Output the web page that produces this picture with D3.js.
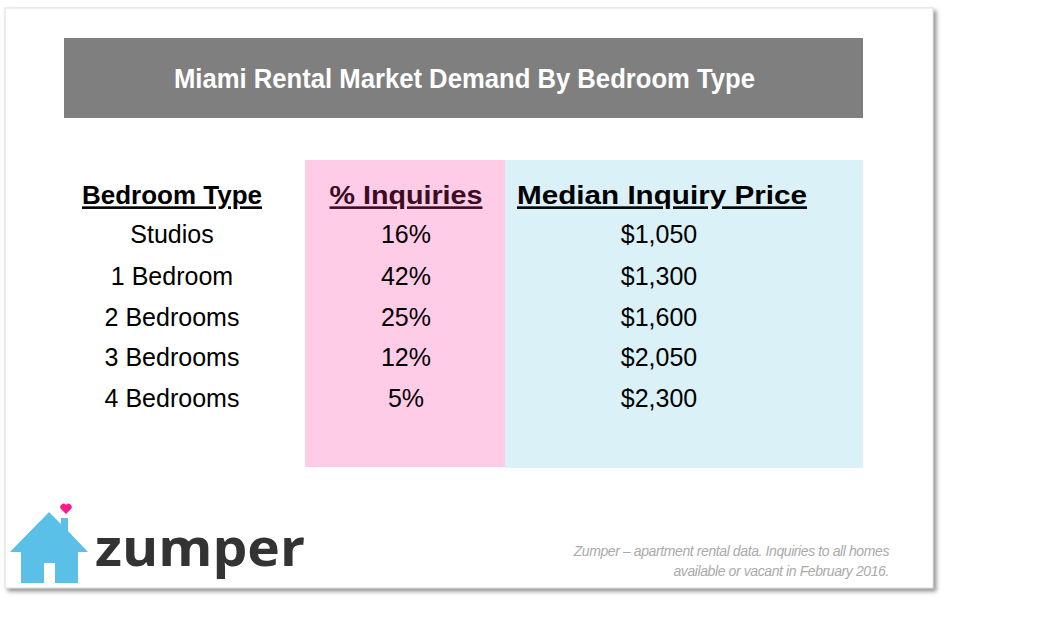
<!DOCTYPE html>
<html><head><meta charset="utf-8">
<script src="https://cdn.jsdelivr.net/npm/d3@7"></script>
<style>body{margin:0;background:#fff}</style>
</head><body><div id="chart"></div>
<script>
const title = 'Miami Rental Market Demand By Bedroom Type';
const columns = ['Bedroom Type', '% Inquiries', 'Median Inquiry Price'];
const bedroomTypes = ['Studios', '1 Bedroom', '2 Bedrooms', '3 Bedrooms', '4 Bedrooms'];
const inquiryShare = [16, 42, 25, 12, 5];
const medianPrice = [1050, 1300, 1600, 2050, 2300];
const note = ['Zumper – apartment rental data. Inquiries to all homes', 'available or vacant in February 2016.'];

const width = 1040, height = 624;
const svg = d3.select('#chart').append('svg').attr('width', width).attr('height', height)
  .style('font-family', 'Liberation Sans, Arial, sans-serif');

// card with drop shadow
const defs = svg.append('defs');
const f = defs.append('filter').attr('id', 'sh').attr('x', '-5%').attr('y', '-5%').attr('width', '110%').attr('height', '110%');
f.append('feDropShadow').attr('dx', 3).attr('dy', 3).attr('stdDeviation', 2).attr('flood-color', '#777').attr('flood-opacity', 0.8);
svg.append('rect').attr('x', 5).attr('y', 8).attr('width', 928).attr('height', 580)
  .attr('fill', '#fff').attr('stroke', '#ddd').attr('filter', 'url(#sh)');

// title bar
svg.append('rect').attr('x', 64).attr('y', 38).attr('width', 799).attr('height', 80).attr('fill', '#7f7f7f');
svg.append('text').attr('x', 174).attr('y', 88)
  .attr('fill', '#fff').attr('font-size', 27).attr('font-weight', 'bold')
  .attr('textLength', 581).attr('lengthAdjust', 'spacingAndGlyphs').text(title);

// column backgrounds
svg.append('rect').attr('x', 305).attr('y', 160).attr('width', 200).attr('height', 307).attr('fill', '#ffcce8');
svg.append('rect').attr('x', 505).attr('y', 160).attr('width', 358).attr('height', 308).attr('fill', '#daf1f7');

const x = d3.scaleOrdinal().domain(columns).range([172, 406, 662]);
const headWidths = [180, 153, 290];
const y = d3.scaleBand().domain(['header', ...bedroomTypes]).range([175, 418]);
const fmtPrice = d3.format('$,');

svg.selectAll('text.head').data(columns).join('text').attr('class', 'head')
  .attr('x', (d, i) => x(d) - headWidths[i] / 2).attr('y', y('header') + y.bandwidth() / 2).attr('dy', '0.35em')
  .attr('font-size', 26).attr('font-weight', 'bold')
  .attr('textLength', (d, i) => headWidths[i]).attr('lengthAdjust', 'spacingAndGlyphs')
  .attr('text-decoration', 'underline').attr('fill', (d, i) => i === 1 ? '#3a0d23' : '#000').text(d => d);

const rows = bedroomTypes.map((t, i) => [t, inquiryShare[i] + '%', fmtPrice(medianPrice[i])]);
rows.forEach((r, i) => {
  svg.selectAll(null).data(r).join('text')
    .attr('x', (d, j) => x(columns[j]) - (j === 2 ? 3 : 0)).attr('y', y(bedroomTypes[i]) + y.bandwidth() / 2 - (i === 0 ? 2 : 0))
    .attr('dy', '0.35em').attr('text-anchor', 'middle').attr('font-size', 25).attr('fill', '#000').text(d => d);
});

// zumper logo
const logo = svg.append('g');
logo.append('path').attr('fill', '#5bc0e8')
  .attr('d', 'M10,552 L49,512 L61,524 L61,518 L68,518 L68,531 L88,552 L78,552 L78,583 L55,583 L55,563 L44,563 L44,583 L21,583 L21,552 Z');
logo.append('path').attr('fill', '#ff1a8c')
  .attr('d', 'M66,514 L61,509 A3,3 0 0 1 66,505 A3,3 0 0 1 71,509 Z');
logo.append('text').attr('x', 95).attr('y', 566).attr('font-size', 52).attr('font-weight', 'bold')
  .attr('textLength', 210).attr('lengthAdjust', 'spacingAndGlyphs')
  .attr('fill', '#333').style('font-family', 'Open Sans, sans-serif').text('zumper');

svg.selectAll('text.note').data(note).join('text').attr('class', 'note')
  .attr('x', 889).attr('y', (d, i) => 556 + i * 20).attr('text-anchor', 'end')
  .attr('font-size', 14).attr('font-style', 'italic').attr('fill', '#aaa')
  .style('letter-spacing', '-0.4px').text(d => d);
</script></body></html>
